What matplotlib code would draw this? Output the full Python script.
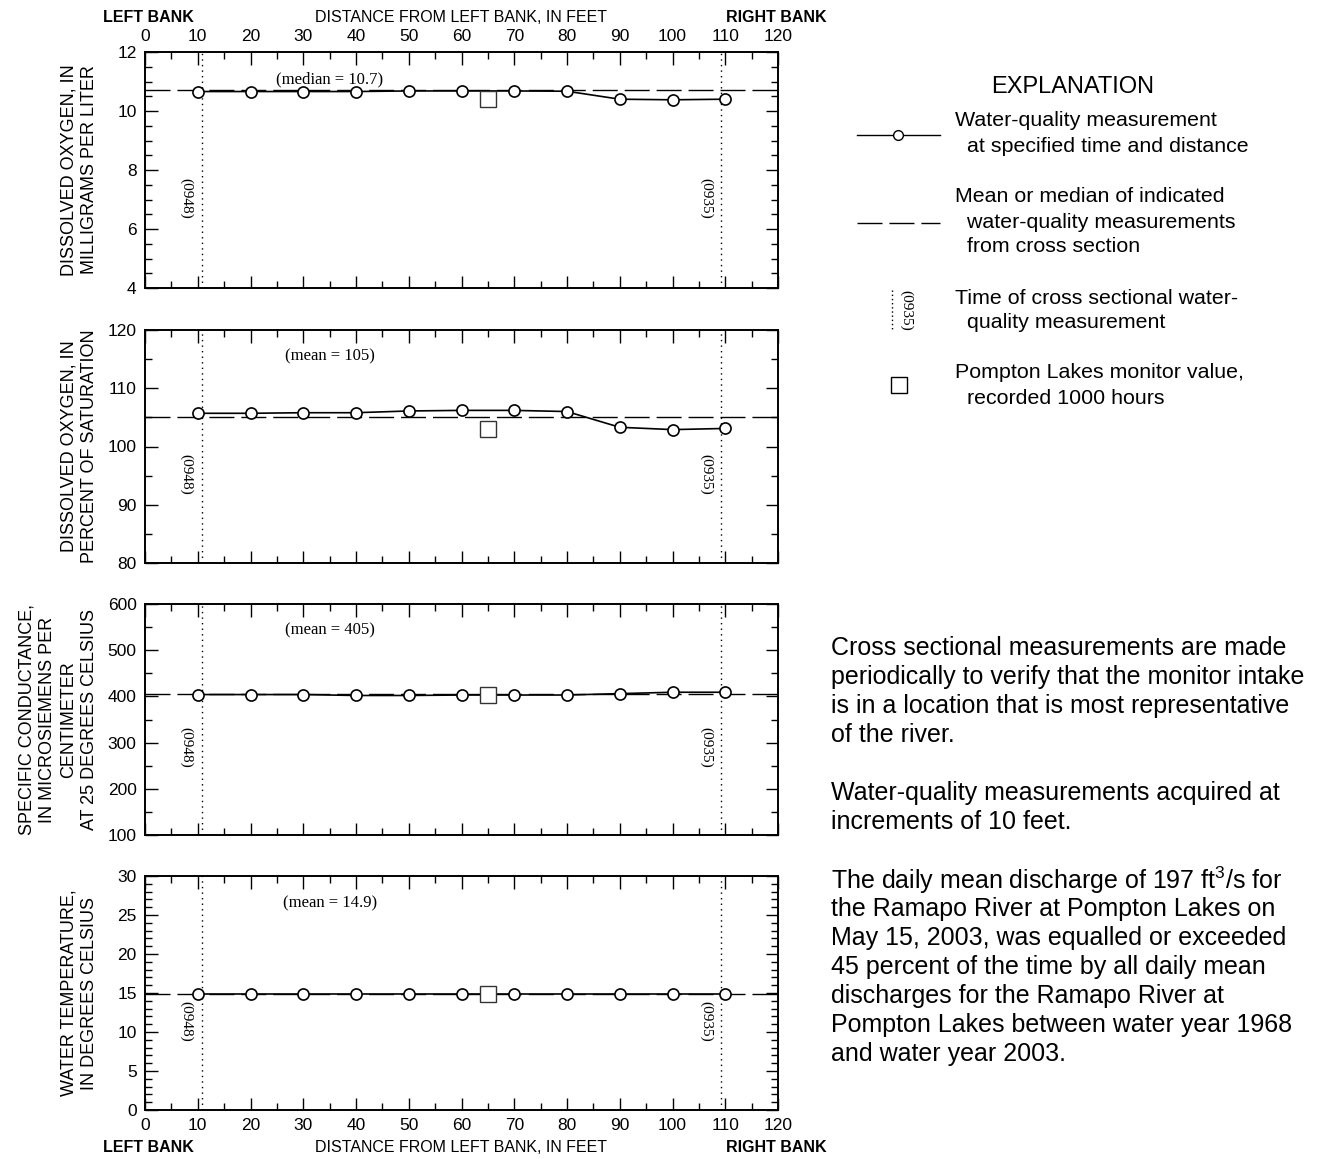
import matplotlib
matplotlib.use("Agg")
import matplotlib.pyplot as plt
from matplotlib.ticker import MultipleLocator

# ---------------- data ----------------
distance = [10, 20, 30, 40, 50, 60, 70, 80, 90, 100, 110]
do_mgl = [10.66, 10.66, 10.66, 10.66, 10.68, 10.68, 10.68, 10.67, 10.40, 10.38, 10.40]
do_sat = [105.7, 105.7, 105.8, 105.8, 106.1, 106.2, 106.2, 106.0, 103.3, 102.9, 103.1]
spec_cond = [404, 404, 404, 402, 402, 403, 403, 403, 406, 409, 409]
water_temp = [14.9, 14.9, 14.9, 14.9, 14.9, 14.9, 14.9, 14.9, 14.9, 14.9, 14.9]
summary_values = [10.7, 105, 405, 14.9]
summary_labels = ["(median = 10.7)", "(mean = 105)", "(mean = 405)", "(mean = 14.9)"]
monitor_distance = 65
monitor_values = [10.39, 103.0, 402, 14.9]
time_lines_x = [10.8, 109.2]
time_labels = ["(0948)", "(0935)"]
x_ticks = [0, 10, 20, 30, 40, 50, 60, 70, 80, 90, 100, 110, 120]

y_labels = [
    "DISSOLVED OXYGEN, IN\nMILLIGRAMS PER LITER",
    "DISSOLVED OXYGEN, IN\nPERCENT OF SATURATION",
    "SPECIFIC CONDUCTANCE,\nIN MICROSIEMENS PER\nCENTIMETER\nAT 25 DEGREES CELSIUS",
    "WATER TEMPERATURE,\nIN DEGREES CELSIUS",
]
y_limits = [(4, 12), (80, 120), (100, 600), (0, 30)]
y_major = [2, 10, 100, 5]
y_minor = [0.5, 5, 50, 1]

series = [do_mgl, do_sat, spec_cond, water_temp]

# ---------------- figure ----------------
W, H = 1323, 1159
plt.rcParams["mathtext.fontset"] = "custom"
plt.rcParams["mathtext.rm"] = "Liberation Sans"
plt.rcParams["mathtext.default"] = "rm"
fig = plt.figure(figsize=(W / 100, H / 100), dpi=100)

NARROW = ["Liberation Sans Narrow", "Liberation Sans", "DejaVu Sans"]
SANS = ["Liberation Sans", "DejaVu Sans"]
SERIF = ["Liberation Serif", "DejaVu Serif"]

panels_px = [(52, 288), (330, 563), (604, 835), (876, 1110)]
left_px, right_px = 145, 778

axes = []
for i, (top, bot) in enumerate(panels_px):
    ax = fig.add_axes([left_px / W, 1 - bot / H, (right_px - left_px) / W, (bot - top) / H])
    axes.append(ax)
    ys = series[i]
    ax.set_xlim(0, 120)
    ax.set_ylim(*y_limits[i])
    # mean / median
    ax.axhline(summary_values[i], color="black", lw=1.0, dashes=(18, 5), zorder=2)
    # time lines
    for tx, tl, lx in zip(time_lines_x, time_labels, [7.8, 106.3]):
        ax.axvline(tx, color="black", lw=1.0, ls=(0, (1, 3)), zorder=1)
        ax.text(lx, 0.38, tl, transform=ax.get_xaxis_transform(), rotation=270,
                ha="center", va="center", fontsize=11, family=SERIF)
    # measurement line
    ax.plot(distance, ys, color="black", lw=1.2, marker="o", ms=8,
            mfc="white", mec="black", mew=1.2, zorder=4)
    # monitor value
    ax.plot([monitor_distance], [monitor_values[i]], marker="s", ms=11,
            mfc="white", mec="#333333", mew=1.0, ls="none", zorder=5)
    ax.text(35, 0.885, summary_labels[i], transform=ax.get_xaxis_transform(),
            ha="center", va="center", fontsize=12, family=SERIF)

    ax.set_xticks(x_ticks)
    ax.xaxis.set_minor_locator(MultipleLocator(5))
    ax.yaxis.set_major_locator(MultipleLocator(y_major[i]))
    ax.yaxis.set_minor_locator(MultipleLocator(y_minor[i]))
    ax.tick_params(which="both", direction="in", top=True, bottom=True, left=True, right=True,
                   width=1.0, color="black")
    ax.tick_params(which="major", length=9)
    ax.tick_params(which="minor", length=5)
    ax.tick_params(axis="x", labelbottom=(i == 3), labeltop=(i == 0), pad=6)
    ax.tick_params(axis="y", pad=6)
    for s in ax.spines.values():
        s.set_linewidth(1.4)
    for lab in ax.get_xticklabels() + ax.get_yticklabels():
        lab.set_family(NARROW)
        lab.set_fontsize(12.5)

    cy = 1 - (top + bot) / 2 / H
    fig.text(98 / W, cy, y_labels[i], rotation=90, ha="right", va="center",
             multialignment="center", fontsize=13, family=SANS, linespacing=1.3)

# top and bottom axis titles
for ypx in (17, 1147):
    fig.text(148 / W, 1 - ypx / H, "LEFT BANK", ha="center", va="center",
             fontsize=11.5, fontweight="bold", family=NARROW)
    fig.text(776 / W, 1 - ypx / H, "RIGHT BANK", ha="center", va="center",
             fontsize=11.5, fontweight="bold", family=NARROW)
    fig.text(461 / W, 1 - ypx / H, "DISTANCE FROM LEFT BANK, IN FEET", ha="center",
             va="center", fontsize=11.5, family=NARROW)

# ---------------- explanation (overlay in pixel coordinates) ----------------
ov = fig.add_axes([0, 0, 1, 1])
ov.set_xlim(0, W)
ov.set_ylim(H, 0)
ov.axis("off")

ov.text(1073, 87, "EXPLANATION", ha="center", va="center", fontsize=17, family=SANS)
ov.plot([857, 940], [135, 135], color="black", lw=1.0)
ov.plot([898], [135], marker="o", ms=7, mfc="white", mec="black", mew=1.0)
ov.plot([857, 940], [223, 223], color="black", lw=1.0, dashes=(18, 5))
ov.plot([892, 892], [290, 331], color="black", lw=1.0, ls=(0, (1, 2)))
ov.text(906, 310, "(0935)", rotation=270, ha="center", va="center", fontsize=11, family=SERIF)
ov.plot([899], [385], marker="s", ms=11, mfc="white", mec="black", mew=1.0)

legend_lines = [
    (120, "Water-quality measurement"),
    (146, "  at specified time and distance"),
    (196, "Mean or median of indicated"),
    (222, "  water-quality measurements"),
    (247, "  from cross section"),
    (298, "Time of cross sectional water-"),
    (323, "  quality measurement"),
    (372, "Pompton Lakes monitor value,"),
    (398, "  recorded 1000 hours"),
]
for y, t in legend_lines:
    ov.text(955, y, t, ha="left", va="center", fontsize=15.4, family=SANS)

para_lines = [
    (648, "Cross sectional measurements are made"),
    (677, "periodically to verify that the monitor intake"),
    (706, "is in a location that is most representative"),
    (735, "of the river."),
    (793, "Water-quality measurements acquired at"),
    (822, "increments of 10 feet."),
    (880, "The daily mean discharge of 197 ft$^{3}$/s for"),
    (909, "the Ramapo River at Pompton Lakes on"),
    (938, "May 15, 2003, was equalled or exceeded"),
    (967, "45 percent of the time by all daily mean"),
    (996, "discharges for the Ramapo River at"),
    (1025, "Pompton Lakes between water year 1968"),
    (1054, "and water year 2003."),
]
for y, t in para_lines:
    ov.text(831, y, t, ha="left", va="center", fontsize=18, family=SANS)

fig.savefig("out.png", dpi=100)
